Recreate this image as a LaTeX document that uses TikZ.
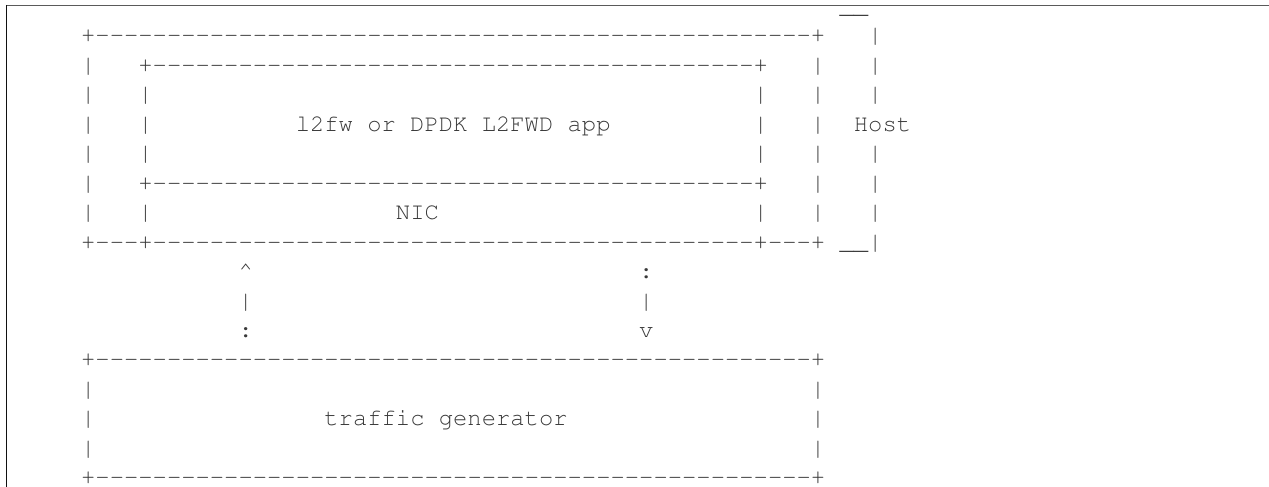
\documentclass[tikz,border=0pt]{standalone}
\usepackage[T1]{fontenc}
\usepackage{courier}
\definecolor{ink}{HTML}{3A3A3A}
\definecolor{topc}{HTML}{5A5A5A}
\definecolor{leftc}{HTML}{111111}
\newcommand\dashes[1]{\foreach\k in {1,...,#1}{-}}
\def\cw{14.31}
\def\xo{23.9}
\def\lh{29.45}
\def\yb{13.55}
\newcommand\tx[4]{\node[txt] (#1) at ({\xo+#2*\cw},{-(\yb+#3*\lh)}) {#4};}
\tikzset{
  txt/.style={anchor=base west,inner sep=0pt,outer sep=0pt,text=ink,
    font=\ttfamily\fontsize{23.85}{29.45}\selectfont},
  topline/.style={draw=topc,line width=1.2pt},
  leftline/.style={draw=leftc,line width=1.3pt}
}
\begin{document}
\begin{tikzpicture}[x=1pt,y=1pt]
\useasboundingbox (0,0) rectangle (1269,-487);
\fill[white] (0,0) rectangle (1269,-487);
\draw[topline] (6,-5.4) -- (1272,-5.4);
\draw[leftline] (6.4,-4.8) -- (6.4,-490);
% row 0
\tx{r0a}{57}{0}{\_\_}
% row 1
\tx{r1a}{4}{1}{+\dashes{50}+}
\tx{r1b}{59}{1}{|}
% row 2
\tx{r2a}{4}{2}{|}
\tx{r2b}{8}{2}{+\dashes{42}+}
\tx{r2c}{55}{2}{|}
\tx{r2d}{59}{2}{|}
% row 3
\tx{r3a}{4}{3}{|}
\tx{r3b}{8}{3}{|}
\tx{r3c}{51}{3}{|}
\tx{r3d}{55}{3}{|}
\tx{r3e}{59}{3}{|}
% row 4
\tx{r4a}{4}{4}{|}
\tx{r4b}{8}{4}{|}
\tx{app}{19}{4}{l2fw or DPDK L2FWD app}
\tx{r4c}{51}{4}{|}
\tx{r4d}{55}{4}{|}
\tx{host}{58}{4}{Host}
% row 5
\tx{r5a}{4}{5}{|}
\tx{r5b}{8}{5}{|}
\tx{r5c}{51}{5}{|}
\tx{r5d}{55}{5}{|}
\tx{r5e}{59}{5}{|}
% row 6
\tx{r6a}{4}{6}{|}
\tx{r6b}{8}{6}{+\dashes{42}+}
\tx{r6c}{55}{6}{|}
\tx{r6d}{59}{6}{|}
% row 7
\tx{r7a}{4}{7}{|}
\tx{r7b}{8}{7}{|}
\tx{nic}{26}{7}{NIC}
\tx{r7c}{51}{7}{|}
\tx{r7d}{55}{7}{|}
\tx{r7e}{59}{7}{|}
% row 8
\tx{r8a}{4}{8}{+\dashes{3}+\dashes{42}+\dashes{3}+}
\tx{r8b}{57}{8}{\_\_|}
% rows 9-11 : arrows
\tx{r9a}{15}{9}{\textasciicircum}
\tx{r9b}{43}{9}{:}
\tx{r10a}{15}{10}{|}
\tx{r10b}{43}{10}{|}
\tx{r11a}{15}{11}{:}
\tx{r11b}{43}{11}{v}
% traffic generator box
\tx{r12a}{4}{12}{+\dashes{50}+}
\tx{r13a}{4}{13}{|}
\tx{r13b}{55}{13}{|}
\tx{r14a}{4}{14}{|}
\tx{tg}{21}{14}{traffic generator}
\tx{r14b}{55}{14}{|}
\tx{r15a}{4}{15}{|}
\tx{r15b}{55}{15}{|}
\tx{r16a}{4}{16}{+\dashes{50}+}
\end{tikzpicture}
\end{document}
